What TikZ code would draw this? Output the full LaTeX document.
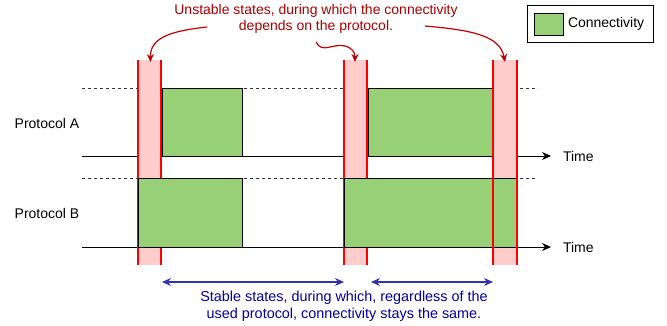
\documentclass[tikz,border=0pt]{standalone}
\usepackage{fontspec}
\setmainfont{Liberation Sans}
\usetikzlibrary{arrows.meta}
\definecolor{bandfill}{HTML}{FFCCCC}
\definecolor{bandline}{HTML}{FF0000}
\definecolor{conn}{HTML}{97D077}
\definecolor{redtext}{HTML}{A50000}
\definecolor{redarrow}{HTML}{C00000}
\definecolor{bluetext}{HTML}{000099}
\definecolor{bluearrow}{HTML}{3333AA}
\begin{document}
\begin{tikzpicture}[x=1pt,y=-1pt,
  every node/.style={font=\fontsize{14}{16}\selectfont},
  band/.style={fill=bandfill,draw=none,inner sep=0,outer sep=0,anchor=north west,minimum width=25pt,minimum height=205pt},
  bandedge/.style={draw=bandline,line width=1.6pt},
  connbox/.style={fill=conn,draw=black,line width=0.8pt,inner sep=0,outer sep=0,anchor=north west},
  dashline/.style={draw=black!80,dashed,line width=0.6pt,dash pattern=on 3pt off 3pt},
  timeline/.style={draw=black,line width=0.8pt,-{Stealth[length=9pt,width=8pt]}},
  redarr/.style={draw=redarrow,line width=1.2pt,-{Stealth[length=8pt,width=7pt]}},
  bluearr/.style={draw=bluearrow,line width=1.2pt,{Stealth[length=9pt,width=8pt]}-{Stealth[length=9pt,width=8pt]}},
  lbl/.style={inner sep=0,outer sep=0}]
\useasboundingbox (0,0) rectangle (667,326);

% background lines
\coordinate (dA0) at (82,88);  \coordinate (dA1) at (538,88);
\coordinate (dB0) at (82,178); \coordinate (dB1) at (538,178);
\coordinate (tA0) at (82,156); \coordinate (tA1) at (551,156);
\coordinate (tB0) at (82,247); \coordinate (tB1) at (551,247);
\draw[dashline] (dA0) -- (dA1);
\draw[dashline] (dB0) -- (dB1);
\draw[timeline] (tA0) -- (tA1);
\draw[timeline] (tB0) -- (tB1);
\node[lbl,anchor=west] (timeA) at (563,156) {Time};
\node[lbl,anchor=west] (timeB) at (563,247) {Time};

% unstable bands
\node[band] (u1) at (137,60) {};
\node[band] (u2) at (343,60) {};
\node[band] (u3) at (492,60) {};
\foreach \b in {u1,u2}{
  \draw[bandedge] ([xshift=0.8pt]\b.north west) -- ([xshift=0.8pt]\b.south west);
  \draw[bandedge] ([xshift=-0.8pt]\b.north east) -- ([xshift=-0.8pt]\b.south east);
}

% connectivity boxes
\node[connbox,minimum width=80pt,minimum height=68pt] (a1) at (162,88) {};
\node[connbox,minimum width=125pt,minimum height=68pt] (a2) at (368,88) {};
\node[connbox,minimum width=104pt,minimum height=69pt] (b1) at (138,178) {};
\node[connbox,minimum width=173pt,minimum height=69pt] (b2) at (344,178) {};

\draw[bandedge] ([xshift=0.8pt]u3.north west) -- ([xshift=0.8pt]u3.south west);
\draw[bandedge] ([xshift=-0.2pt]u3.north east) -- ([xshift=-0.2pt]u3.south east);

% protocol labels
\node[lbl] (pA) at (47,123) {Protocol A};
\node[lbl] (pB) at (47,213) {Protocol B};

% legend
\node[draw=black,line width=0.8pt,fill=white,inner sep=0,minimum width=126pt,minimum height=37pt,anchor=north west] (leg) at (527,5) {};
\node[connbox,minimum width=29pt,minimum height=22pt] (legbox) at (534,13) {};
\node[lbl,anchor=west] (legtxt) at (568,24) {Connectivity};

% unstable annotation
\node[lbl,text=redtext,align=center] (untxt) at (316,19) {Unstable states, during which the connectivity\\depends on the protocol.};
\coordinate (s1) at (207,27);
\coordinate (s2) at (316,42);
\coordinate (s3) at (425,26);
\draw[redarr] (s1) .. controls (170,31) and (150,38) .. ([xshift=1pt,yshift=-2pt]u1.north);
\draw[redarr] (s2) .. controls (322,54) and (333,43) .. (345,46) .. controls (352,48) and (355,52) .. ([xshift=-0.5pt,yshift=-2pt]u2.north);
\draw[redarr] (s3) .. controls (470,30) and (500,35) .. ([xshift=0.5pt,yshift=-2pt]u3.north);

% stable annotation
\coordinate (st1a) at (162,282); \coordinate (st1b) at (344,282);
\coordinate (st2a) at (371,282); \coordinate (st2b) at (493,282);
\draw[bluearr] (st1a) -- (st1b);
\draw[bluearr] (st2a) -- (st2b);
\node[lbl,text=bluetext,align=center,font=\fontsize{14.4}{17}\selectfont] (sttxt) at (344,306) {Stable states, during which, regardless of the\\used protocol, connectivity stays the same.};
\end{tikzpicture}
\end{document}
